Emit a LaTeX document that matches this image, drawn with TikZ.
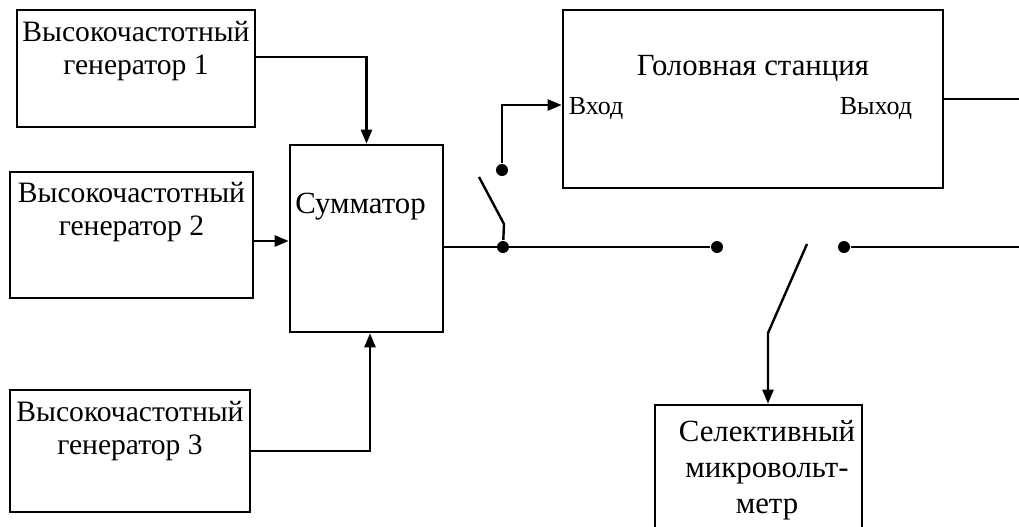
\documentclass[tikz,border=0pt]{standalone}
\usepackage{fontspec}
\setmainfont{Liberation Serif}
\usetikzlibrary{arrows.meta,positioning,fit}

\begin{document}
\begin{tikzpicture}[x=0.5pt, y=-0.5pt, line width=1.2pt, >={Triangle[length=7pt,width=5.5pt]},
  box/.style={draw, line width=1.3pt, inner sep=0pt},
  txt/.style={inner sep=0pt, align=center, font=\fontsize{14.8}{16.5}\selectfont},
  big/.style={inner sep=0pt, align=center, font=\fontsize{15.4}{18}\selectfont},
  small/.style={inner sep=0pt, font=\fontsize{13}{15}\selectfont},
  dot/.style={circle, fill, inner sep=0pt, minimum size=6pt}]
  \clip (0,0) rectangle (1019,526);
  \node[box, fit={(17,10) (255,127)}] (gen1) {};
  \node[box, fit={(10,172) (253,298)}] (gen2) {};
  \node[box, fit={(10,390) (250,512)}] (gen3) {};
  \node[box, fit={(290,145) (443,332)}] (sum) {};
  \node[box, fit={(563,10) (943,188)}] (hs) {};
  \node[box, fit={(655,405) (862,560)}] (sel) {};
  \node[txt, below=5.5pt of gen1.north] {Высокочастотный\\генератор 1};
  \node[txt, below=5pt of gen2.north] {Высокочастотный\\генератор 2};
  \node[txt, below=5.5pt of gen3.north] {Высокочастотный\\генератор 3};
  \node[big, below=24pt of sum.north, xshift=-3pt] {Сумматор};
  \node[big, below=22.5pt of hs.north] {Головная станция};
  \node[small, anchor=base west] (in) at ([xshift=3pt, yshift=-7.5pt]hs.west) {Вход};
  \node[small, anchor=base east] (out) at ([xshift=-15.5pt, yshift=-7.5pt]hs.east) {Выход};
  \node[big, below=8pt of sel.north, xshift=4.25pt] {Селективный\\микровольт-\\метр};
  \node[dot] (j1) at (503,247) {};
  \node[dot] (c1) at (502,170) {};
  \node[dot] (c2) at (717,247) {};
  \node[dot] (c3) at (844,247) {};
  \coordinate (k1) at (504,224);
  \coordinate (k1e) at (479,177);
  \coordinate (k2) at (807,244);
  \coordinate (k2e) at (768,333);
  \coordinate (outR) at (1019,99);
  \coordinate (lineR) at (1019,247);
  \draw[->] ([yshift=5.75pt]gen1.east) -| (sum.north);
  \draw[->] ([yshift=-3pt]gen2.east) -- ([yshift=-3pt]gen2.east -| sum.west);
  \draw[->] (gen3.east) -| ([xshift=1.75pt]sum.south);
  \draw (sum.east |- j1) -- (c2);
  \draw (j1) -- (k1) -- (k1e);
  \draw[->] (c1) |- ([yshift=-3pt]hs.west);
  \draw (hs.east) -- (outR);
  \draw (c3) -- (lineR);
  \draw[->] (k2) -- (k2e) -- (k2e |- sel.north);
\end{tikzpicture}
\end{document}
